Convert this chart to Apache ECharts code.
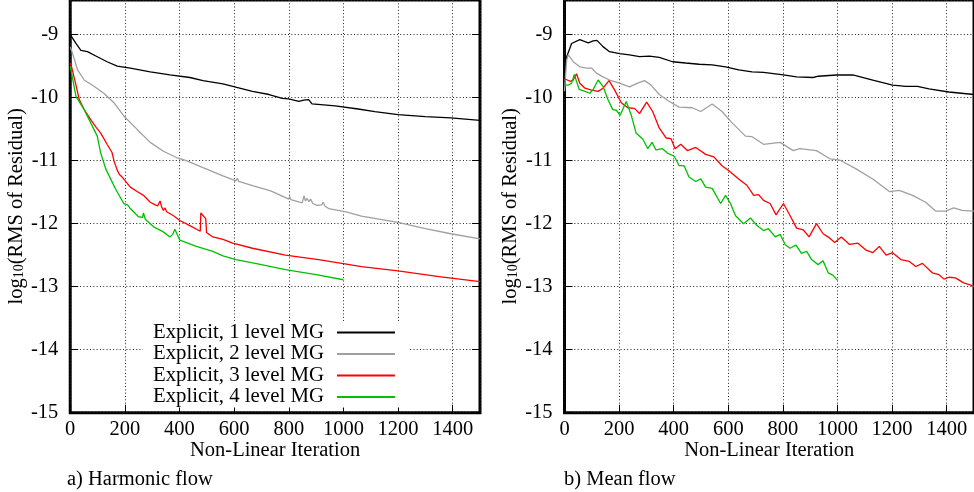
<!DOCTYPE html>
<html>
<head>
<meta charset="utf-8">
<script src="https://cdn.jsdelivr.net/npm/echarts@6/dist/echarts.min.js"></script>
<style>
  html, body { margin: 0; padding: 0; background: #fff; }
  #chart { width: 974px; height: 492px; }
</style>
</head>
<body>
<div id="chart"></div>
<script>
// series names as in the key
const seriesNames = [
  'Explicit, 1 level MG',
  'Explicit, 2 level MG',
  'Explicit, 3 level MG',
  'Explicit, 4 level MG',
]
const seriesColors = ['#000000', '#a0a0a0', '#ff0000', '#00c000']

// a) Harmonic flow, [iteration, log10 residual]
const harmonic1 = [[0,-9.0],[5,-9.01],[21,-9.14],[39,-9.25],[63,-9.27],[99,-9.35],[135,-9.43],[172,-9.5],[220,-9.53],[293,-9.59],[365,-9.64],[438,-9.68],[486,-9.73],[559,-9.78],[595,-9.82],[667,-9.9],[728,-9.95],[776,-10.01],[800,-10.02],[837,-10.06],[855,-10.04],[873,-10.03],[885,-10.1],[970,-10.13],[1054,-10.18],[1115,-10.22],[1200,-10.27],[1300,-10.3],[1393,-10.32],[1500,-10.36]]
const harmonic2 = [[0,-9.2],[5,-9.25],[27,-9.56],[51,-9.72],[87,-9.82],[123,-9.93],[160,-10.08],[196,-10.29],[244,-10.5],[293,-10.71],[341,-10.85],[389,-10.95],[425,-11.0],[486,-11.11],[559,-11.24],[607,-11.32],[612,-11.28],[617,-11.33],[670,-11.4],[728,-11.47],[735,-11.44],[740,-11.49],[800,-11.61],[803,-11.57],[808,-11.62],[849,-11.67],[856,-11.56],[861,-11.64],[867,-11.6],[874,-11.65],[880,-11.61],[888,-11.68],[903,-11.71],[921,-11.7],[926,-11.66],[932,-11.72],[946,-11.76],[1006,-11.81],[1066,-11.88],[1200,-11.98],[1300,-12.08],[1393,-12.16],[1500,-12.24]]
const harmonic3 = [[0,-9.45],[5,-9.51],[20,-9.78],[33,-10.03],[50,-10.18],[75,-10.35],[95,-10.47],[111,-10.56],[135,-10.74],[153,-10.87],[160,-11.0],[172,-11.15],[180,-11.22],[185,-11.2],[190,-11.26],[220,-11.42],[245,-11.49],[268,-11.55],[293,-11.66],[300,-11.63],[306,-11.69],[313,-11.66],[320,-11.72],[329,-11.64],[335,-11.74],[341,-11.79],[347,-11.75],[353,-11.81],[360,-11.79],[377,-11.87],[401,-11.95],[438,-12.03],[476,-12.12],[478,-11.83],[496,-11.92],[499,-12.14],[522,-12.21],[559,-12.25],[595,-12.31],[667,-12.39],[788,-12.5],[909,-12.57],[994,-12.63],[1066,-12.68],[1200,-12.75],[1350,-12.84],[1500,-12.92]]
const harmonic4 = [[0,-9.5],[5,-9.61],[21,-9.98],[51,-10.19],[75,-10.4],[99,-10.61],[111,-10.87],[130,-11.13],[166,-11.45],[196,-11.68],[210,-11.7],[215,-11.73],[220,-11.76],[250,-11.89],[265,-11.9],[268,-11.83],[275,-11.93],[305,-12.05],[341,-12.13],[365,-12.21],[375,-12.17],[383,-12.09],[401,-12.26],[462,-12.36],[522,-12.44],[559,-12.51],[607,-12.57],[700,-12.65],[788,-12.73],[900,-12.81],[1000,-12.89]]

// b) Mean flow
const mean1 = [[0,-9.6],[8,-9.35],[26,-9.14],[56,-9.08],[68,-9.1],[87,-9.13],[105,-9.1],[119,-9.09],[141,-9.19],[165,-9.27],[202,-9.3],[238,-9.32],[275,-9.35],[311,-9.34],[347,-9.36],[396,-9.43],[444,-9.45],[493,-9.47],[541,-9.48],[590,-9.51],[638,-9.56],[687,-9.59],[729,-9.6],[802,-9.64],[850,-9.67],[911,-9.68],[929,-9.66],[996,-9.64],[1056,-9.64],[1129,-9.72],[1202,-9.8],[1250,-9.82],[1293,-9.82],[1335,-9.86],[1408,-9.91],[1500,-9.95]]
const mean2 = [[0,-9.9],[8,-9.4],[14,-9.32],[32,-9.43],[56,-9.51],[81,-9.53],[99,-9.53],[117,-9.61],[141,-9.67],[165,-9.72],[202,-9.77],[238,-9.83],[268,-9.77],[293,-9.73],[317,-9.8],[347,-9.95],[384,-10.06],[420,-10.15],[468,-10.16],[499,-10.22],[541,-10.1],[577,-10.22],[614,-10.4],[663,-10.61],[687,-10.62],[729,-10.74],[790,-10.71],[838,-10.84],[862,-10.81],[923,-10.84],[972,-10.97],[1008,-10.99],[1068,-11.13],[1129,-11.29],[1190,-11.49],[1226,-11.47],[1275,-11.55],[1323,-11.66],[1359,-11.8],[1396,-11.8],[1426,-11.75],[1456,-11.79],[1500,-11.8]]
const mean3 = [[0,-9.7],[5,-9.72],[20,-9.74],[32,-9.72],[44,-9.62],[56,-9.77],[75,-9.85],[99,-9.88],[123,-9.9],[141,-9.85],[163,-9.73],[184,-9.88],[208,-10.08],[232,-10.16],[256,-10.17],[275,-10.25],[301,-10.07],[323,-10.22],[347,-10.48],[372,-10.64],[390,-10.65],[405,-10.81],[426,-10.74],[450,-10.84],[481,-10.79],[517,-10.9],[547,-10.94],[577,-11.08],[602,-11.16],[638,-11.29],[668,-11.39],[693,-11.55],[711,-11.54],[729,-11.63],[753,-11.68],[775,-11.86],[802,-11.68],[826,-11.87],[850,-12.07],[875,-12.1],[896,-12.21],[923,-12.0],[947,-12.16],[972,-12.23],[990,-12.3],[1014,-12.21],[1044,-12.33],[1075,-12.31],[1105,-12.42],[1129,-12.46],[1153,-12.36],[1178,-12.5],[1202,-12.46],[1232,-12.57],[1263,-12.6],[1287,-12.68],[1311,-12.63],[1347,-12.78],[1372,-12.81],[1390,-12.88],[1408,-12.85],[1432,-12.86],[1462,-12.94],[1500,-12.99]]
const mean4 = [[0,-9.8],[5,-9.82],[14,-9.8],[26,-9.77],[36,-9.63],[44,-9.74],[54,-9.87],[75,-9.9],[93,-9.93],[105,-9.87],[123,-9.72],[141,-9.82],[159,-10.03],[177,-10.19],[190,-10.2],[204,-10.28],[226,-10.06],[244,-10.27],[262,-10.56],[287,-10.66],[305,-10.81],[321,-10.71],[335,-10.83],[359,-10.81],[377,-10.88],[402,-10.93],[420,-11.08],[438,-11.08],[456,-11.26],[481,-11.33],[499,-11.29],[517,-11.42],[541,-11.44],[572,-11.68],[590,-11.55],[608,-11.68],[626,-11.87],[656,-12.0],[681,-11.91],[705,-12.03],[729,-12.11],[747,-12.08],[772,-12.21],[790,-12.17],[808,-12.33],[826,-12.39],[848,-12.34],[868,-12.47],[887,-12.44],[905,-12.57],[929,-12.65],[947,-12.59],[966,-12.78],[984,-12.82],[1000,-12.9]]

const panels = [
  [harmonic1, harmonic2, harmonic3, harmonic4],
  [mean1, mean2, mean3, mean4],
]
const captions = ['a) Harmonic flow', 'b) Mean flow']

const FONT = 'Liberation Serif'
const FONT_SIZE = 20.5
const X_MIN = 0
const X_MAX = 1500
const Y_MIN = -15
const Y_MAX = -8.45

const chart = echarts.init(document.getElementById('chart'))

const gridLine = { show: true, lineStyle: { color: '#222', width: 1, type: [1, 2.3] } }
const tick = { show: true, inside: true, length: 8, lineStyle: { color: '#000', width: 1 } }

const xAxisFor = (gridIndex) => ({
  type: 'value',
  gridIndex,
  min: X_MIN,
  max: X_MAX,
  interval: 200,
  name: 'Non-Linear Iteration',
  nameLocation: 'middle',
  nameGap: 28,
  nameMoveOverlap: false,
  nameTextStyle: { fontFamily: FONT, fontSize: FONT_SIZE, color: '#000', lineHeight: 20 },
  axisLine: { show: false },
  axisTick: tick,
  axisLabel: {
    fontFamily: FONT,
    fontSize: FONT_SIZE,
    color: '#000',
    margin: 6,
    showMaxLabel: false,
    formatter: (v) => String(v),
  },
  splitLine: gridLine,
})

const yAxisFor = (gridIndex) => ({
  type: 'value',
  gridIndex,
  min: Y_MIN,
  max: Y_MAX,
  interval: 1,
  name: '{a|log}{b|10}{a|(RMS of Residual)}',
  nameLocation: 'middle',
  nameGap: 33,
  nameTextStyle: {
    rich: {
      a: { fontFamily: FONT, fontSize: FONT_SIZE, color: '#000', lineHeight: 20, verticalAlign: 'top' },
      b: { fontFamily: FONT, fontSize: 14, color: '#000', lineHeight: 14, padding: [11, 0, 0, 0], verticalAlign: 'bottom' },
    },
  },
  axisLine: { show: false },
  axisTick: tick,
  axisLabel: {
    fontFamily: FONT,
    fontSize: FONT_SIZE,
    color: '#000',
    margin: 12,
    showMaxLabel: false,
  },
  splitLine: gridLine,
})

const series = []
panels.forEach((lines, p) => {
  lines.forEach((data, i) => {
    series.push({
      type: 'line',
      name: seriesNames[i],
      xAxisIndex: p,
      yAxisIndex: p,
      data,
      symbol: 'none',
      lineStyle: { color: seriesColors[i], width: 1.3 },
      itemStyle: { color: seriesColors[i] },
      emphasis: { disabled: true },
      z: 3,
    })
  })
})

chart.setOption({
  animation: false,
  backgroundColor: '#fff',
  textStyle: { fontFamily: FONT },
  grid: [
    { left: 66, right: 494, top: -4, bottom: 79.3, show: true, borderColor: '#000', borderWidth: 3, backgroundColor: 'transparent' },
    { left: 564.5, right: -3, top: -4, bottom: 79.3, show: true, borderColor: '#000', borderWidth: 3, backgroundColor: 'transparent' },
  ],
  xAxis: [xAxisFor(0), xAxisFor(1)],
  yAxis: [
    yAxisFor(0),
    yAxisFor(1),
    // mirrored ticks on the right frame of panel a
    {
      type: 'value',
      gridIndex: 0,
      position: 'right',
      min: Y_MIN,
      max: Y_MAX,
      interval: 1,
      axisLine: { show: false },
      axisTick: tick,
      axisLabel: { show: false },
      splitLine: { show: false },
    },
  ],
  legend: {
    data: seriesNames,
    orient: 'vertical',
    left: 143,
    top: 321,
    align: 'right',
    icon: 'rect',
    itemWidth: 58,
    itemHeight: 2,
    itemGap: 0.5,
    padding: [1, 13, 0, 10],
    backgroundColor: '#fff',
    selectedMode: false,
    textStyle: { fontFamily: FONT, fontSize: 20.8, color: '#000', lineHeight: 20, padding: [0, 8, 0, 0] },
  },
  graphic: [
    { type: 'text', left: 67, top: 469, style: { text: captions[0], font: '20.5px "Liberation Serif"', fill: '#000' } },
    { type: 'text', left: 564, top: 469, style: { text: captions[1], font: '20.5px "Liberation Serif"', fill: '#000' } },
  ],
  series,
})
</script>
</body>
</html>
